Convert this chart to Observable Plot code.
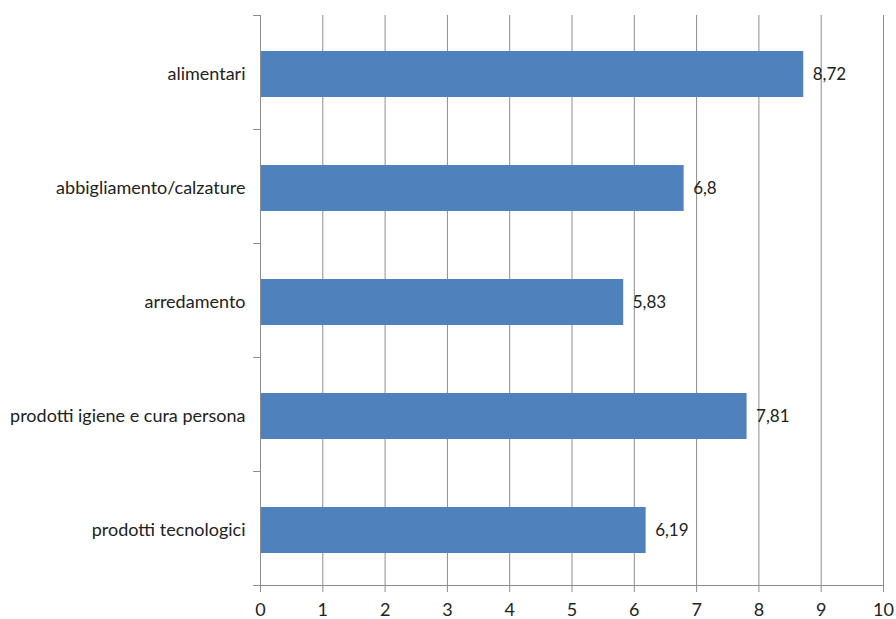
<!DOCTYPE html>
<html>
<head>
<meta charset="utf-8">
<script src="https://cdn.jsdelivr.net/npm/d3@7"></script>
<script src="https://cdn.jsdelivr.net/npm/@observablehq/plot@0.6"></script>
<style>
  html, body { margin: 0; padding: 0; background: #fff; }
  #chart svg { display: block; }
</style>
</head>
<body>
<div id="chart"></div>
<script>
const categories = ["alimentari", "abbigliamento/calzature", "arredamento", "prodotti igiene e cura persona", "prodotti tecnologici"];
const values = [8.72, 6.8, 5.83, 7.81, 6.19];
const xTicks = [0, 1, 2, 3, 4, 5, 6, 7, 8, 9, 10];

const data = categories.map((c, i) => ({cat: c, value: values[i]}));

const W = 896, H = 619;
const mTop = 15, mBottom = 34, mLeft = 260, mRight = 13;
const step = (H - mTop - mBottom) / categories.length;
const gray = "#8c8c8c";
const font = "Lato, 'Open Sans', sans-serif";

const chart = Plot.plot({
  width: W,
  height: H,
  marginTop: mTop,
  marginBottom: mBottom,
  marginLeft: mLeft,
  marginRight: mRight,
  style: {fontFamily: font, fontSize: "18px", color: "#222", background: "#fff"},
  x: {domain: [0, 10], ticks: xTicks},
  y: {domain: categories, paddingInner: 0.6, paddingOuter: 0.3},
  marks: [
    Plot.ruleX(xTicks.filter(d => d > 0), {stroke: gray, strokeOpacity: 1, strokeWidth: 1}),
    Plot.barX(data, {x: "value", y: "cat", fill: "#4f81bd", dy: 2}),
    Plot.ruleX([0], {stroke: gray, strokeWidth: 1}),
    Plot.frame({anchor: "bottom", stroke: gray, strokeWidth: 1}),
    Plot.ruleY(categories, {y: d => d, x1: -0.11, x2: 0, dy: -step / 2, stroke: gray}),
    Plot.ruleY(categories.slice(-1), {y: d => d, x1: -0.11, x2: 0, dy: step / 2, stroke: gray}),
    Plot.text(data, {x: "value", y: "cat", text: d => String(d.value).replace(".", ","), textAnchor: "start", dx: 9, dy: 2, fill: "#222", fontSize: 17}),
    Plot.axisX({ticks: xTicks, tickSize: 7, stroke: gray, tickPadding: 11, fontSize: 18, fill: "#222", label: null}),
    Plot.axisY({tickSize: 0, tickPadding: 15, fontSize: 18, fill: "#222", label: null, dy: 2})
  ]
});
document.getElementById("chart").appendChild(chart);
</script>
</body>
</html>
